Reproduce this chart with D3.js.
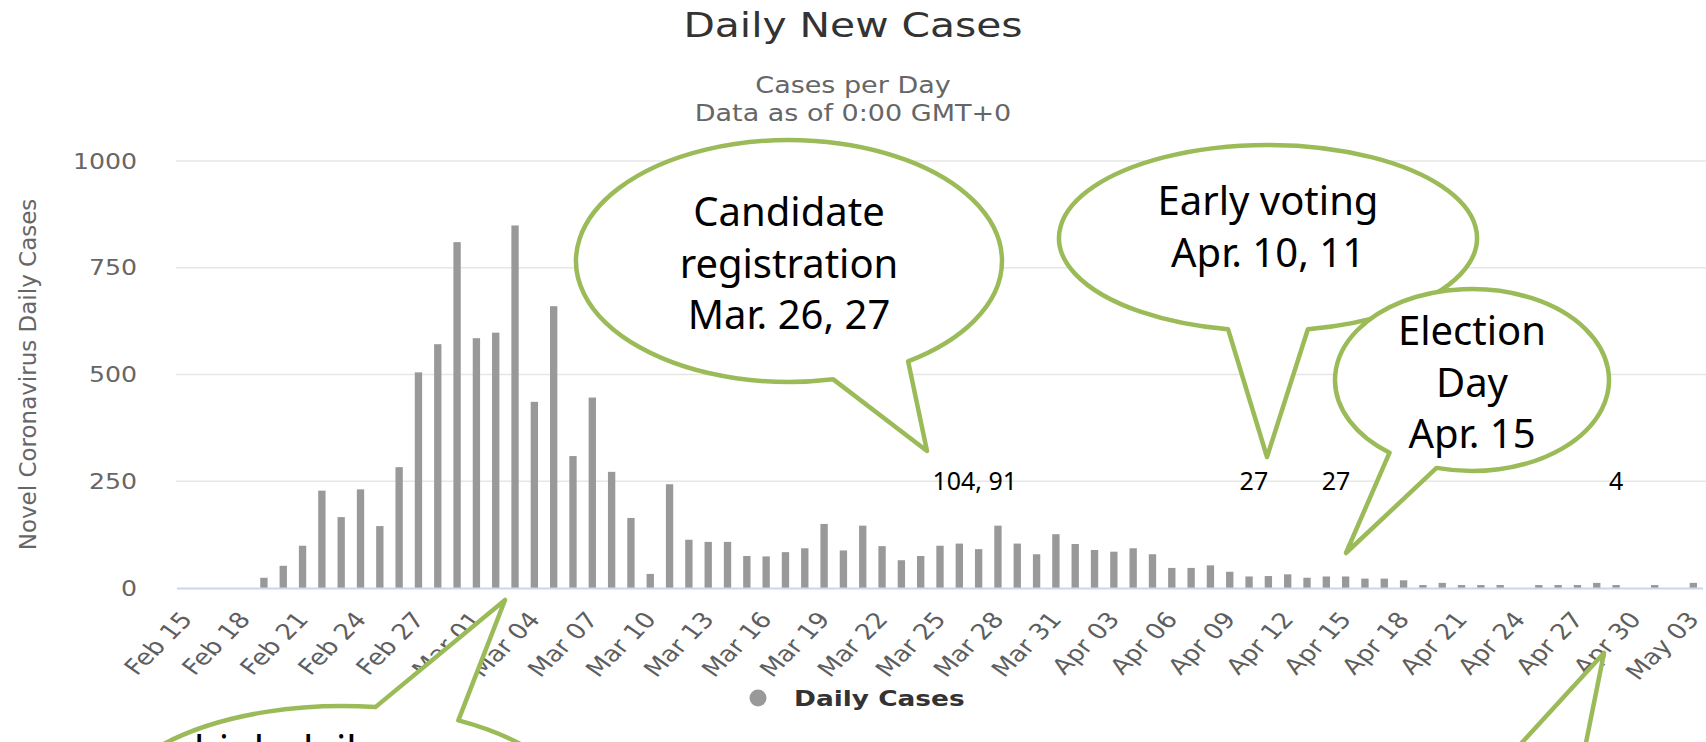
<!DOCTYPE html>
<html>
<head>
<meta charset="utf-8">
<script src="https://cdn.jsdelivr.net/npm/d3@7"></script>
<style>
	html, body { margin: 0; padding: 0; background: #fff; overflow: hidden; }
	svg { display: block; }
</style>
</head>
<body>
<svg id="chart" width="1706" height="742"></svg>
<script>
// daily new cases, Feb 15 -> May 03 2020
const firstDay = '2020-02-15'
const lastDay = '2020-05-03'
const dailyCases = [
	0, 0, 0, 0, 24, 52, 99, 228, 166, 231, 145, 283, 505, 571, 810,
	585, 598, 849, 436, 660, 309, 446, 272, 164, 33, 243, 113, 108, 108, 75,
	74, 84, 93, 150, 88, 146, 98, 65, 75, 99, 104, 91, 146, 104, 79, 126,
	103, 89, 85, 93, 79, 47, 47, 53, 38, 27, 28, 32, 24, 27, 27,
	22, 22, 18, 7, 12, 7, 7, 7, 0, 7, 7, 7, 12, 7, 0,
	7, 0, 12
]
const yTicks = [0, 250, 500, 750, 1000]
const tickLabels = ['Feb 15', 'Feb 18', 'Feb 21', 'Feb 24', 'Feb 27', 'Mar 01', 'Mar 04', 'Mar 07',
	'Mar 10', 'Mar 13', 'Mar 16', 'Mar 19', 'Mar 22', 'Mar 25', 'Mar 28', 'Mar 31', 'Apr 03',
	'Apr 06', 'Apr 09', 'Apr 12', 'Apr 15', 'Apr 18', 'Apr 21', 'Apr 24', 'Apr 27', 'Apr 30', 'May 03']

// numbers written over the chart
const noteTexts = ['104, 91', '27', '27', '4']
const noteDays = ['Mar 26', 'Apr 10', 'Apr 15', 'Apr 29']

// speech bubbles pasted on top of the screenshot
const callouts = [
	{ cx: 342, cy: 821, rx: 240, ry: 115, gap: [-82, -61], tip: [505, 600], top: 764, lines: ['high daily cases'] },
	{ cx: 1480, cy: 880, rx: 220, ry: 100, gap: [-88, -64], tip: [1604, 653], top: 900, lines: [] },
	{ cx: 789, cy: 261, rx: 213, ry: 121, gap: [56, 78], tip: [927, 451], top: 226, lines: ['Candidate', 'registration', 'Mar. 26, 27'] },
	{ cx: 1268, cy: 238, rx: 209, ry: 93, gap: [79, 101], tip: [1267, 457], top: 215, lines: ['Early voting', 'Apr. 10, 11'] },
	{ cx: 1472, cy: 380, rx: 137, ry: 91, gap: [105, 127], tip: [1346, 553], top: 345, lines: ['Election', 'Day', 'Apr. 15'] }
]

const SX = 1.2 // the screenshot is stretched sideways
const chartFont = '"DejaVu Sans", Verdana, sans-serif'
const noteFont = '"Noto Sans", "Open Sans", sans-serif'

const svg = d3.select('#chart')
const fmt = d3.utcFormat('%b %d')
const days = d3.utcDay.range(new Date(firstDay), d3.utcDay.offset(new Date(lastDay), 1)).map(fmt)
const rows = days.map((d, i) => ({ day: d, cases: dailyCases[i] }))

const x = d3.scaleBand()
	.domain(days)
	.range([177, 1703])
	.paddingInner(0.62)
	.paddingOuter(0.31)
const xc = (d) => x(d) + x.bandwidth() / 2

const y = d3.scaleLinear()
	.domain([0, 1000])
	.range([588, 161])

const stretchedText = (parent, px, py, extra = '') => parent.append('g')
	.attr('transform', `translate(${px},${py}) scale(${SX},1)${extra}`)
	.append('text')
	.style('font-family', chartFont)

// titles
stretchedText(svg, 853, 37)
	.text('Daily New Cases')
	.attr('text-anchor', 'middle')
	.style('font-size', '34px')
	.attr('fill', '#333')

const sub = ['Cases per Day', 'Data as of 0:00 GMT+0']
sub.forEach((s, i) => {
	stretchedText(svg, 853, 93 + i * 28)
		.text(s)
		.attr('text-anchor', 'middle')
		.style('font-size', '22.5px')
		.attr('fill', '#666')
})

// grid + y labels
const gGrid = svg.append('g')
gGrid.selectAll('line')
	.data(yTicks.filter((v) => v > 0))
	.enter()
	.append('line')
	.attr('x1', 176)
	.attr('x2', 1706)
	.attr('y1', (d) => y(d))
	.attr('y2', (d) => y(d))
	.attr('stroke', '#e6e6e6')
	.attr('stroke-width', 1.6)

yTicks.forEach((v) => {
	stretchedText(svg, 137, y(v) + 7.5)
		.text(v)
		.attr('text-anchor', 'end')
		.style('font-size', '21px')
		.attr('fill', '#666')
})

svg.append('text')
	.text('Novel Coronavirus Daily Cases')
	.attr('transform', `translate(36, ${(y(0) + y(1000)) / 2}) rotate(-90)`)
	.attr('text-anchor', 'middle')
	.style('font-family', chartFont)
	.style('font-size', '23px')
	.attr('fill', '#666')

// bars
svg.append('g')
	.selectAll('rect')
	.data(rows.filter((d) => d.cases > 0))
	.enter()
	.append('rect')
	.attr('x', (d) => x(d.day))
	.attr('width', x.bandwidth())
	.attr('y', (d) => y(d.cases))
	.attr('height', (d) => y(0) - y(d.cases))
	.attr('fill', '#999')

svg.append('line')
	.attr('x1', 177)
	.attr('x2', 1703)
	.attr('y1', y(0) + 0.5)
	.attr('y2', y(0) + 0.5)
	.attr('stroke', '#ccd6eb')
	.attr('stroke-width', 2)

// x labels
tickLabels.forEach((t) => {
	stretchedText(svg, xc(t) + 7, 620, ' rotate(-50)')
		.text(t)
		.attr('text-anchor', 'end')
		.style('font-size', '22px')
		.attr('fill', '#5e5e5e')
})

// legend
svg.append('circle')
	.attr('cx', 758)
	.attr('cy', 698)
	.attr('r', 8.5)
	.attr('fill', '#999')
stretchedText(svg, 794, 706)
	.text('Daily Cases')
	.style('font-size', '22px')
	.style('font-weight', 'bold')
	.attr('fill', '#333')

// numbers written on top
const noteShift = [0.8, 0.25, -0.5, 0]
noteTexts.forEach((t, i) => {
	svg.append('text')
		.text(t)
		.attr('x', xc(noteDays[i]) + noteShift[i] * x.step())
		.attr('y', y(230))
		.attr('text-anchor', 'middle')
		.style('font-family', noteFont)
		.style('font-size', '25px')
		.attr('fill', '#000')
})

// bubbles
const onEllipse = (c, a) => [c.cx + c.rx * Math.cos(a * Math.PI / 180), c.cy + c.ry * Math.sin(a * Math.PI / 180)]
const bubblePath = (c) => {
	const [x1, y1] = onEllipse(c, c.gap[1])
	const [x2, y2] = onEllipse(c, c.gap[0])
	return `M${x1},${y1}A${c.rx},${c.ry} 0 1 1 ${x2},${y2}L${c.tip[0]},${c.tip[1]}Z`
}

callouts.forEach((c) => {
	const g = svg.append('g')
	g.append('path')
		.attr('d', bubblePath(c))
		.attr('fill', '#fff')
		.attr('stroke', '#9bbb59')
		.attr('stroke-width', 4.5)
		.attr('stroke-linejoin', 'round')
	g.selectAll('text')
		.data(c.lines)
		.enter()
		.append('text')
		.text((d) => d)
		.attr('x', c.cx)
		.attr('y', (_, i) => c.top + i * 51.5)
		.attr('text-anchor', 'middle')
		.style('font-family', noteFont)
		.style('font-size', '40px')
		.attr('fill', '#000')
})
</script>
</body>
</html>
